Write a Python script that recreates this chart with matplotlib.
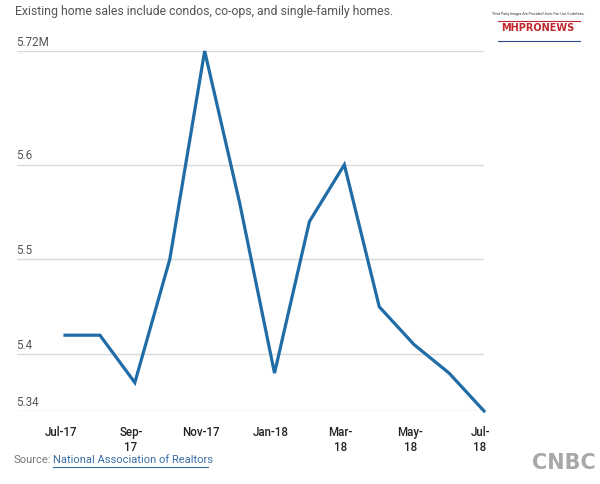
import matplotlib
matplotlib.use("Agg")
import matplotlib.pyplot as plt
import matplotlib.transforms as mtransforms

plt.rcParams['font.family'] = ['Roboto', 'DejaVu Sans']

months = ["Jul-17", "Aug-17", "Sep-17", "Oct-17", "Nov-17", "Dec-17", "Jan-18",
          "Feb-18", "Mar-18", "Apr-18", "May-18", "Jun-18", "Jul-18"]
sales = [5.42, 5.42, 5.37, 5.50, 5.72, 5.56, 5.38, 5.54, 5.60, 5.45, 5.41, 5.38, 5.34]

y_ticks = [5.34, 5.4, 5.5, 5.6, 5.72]
y_labels = ["5.34", "5.4", "5.5", "5.6", "5.72M"]
x_tick_idx = [0, 2, 4, 6, 8, 10, 12]
x_labels = ["Jul-17", "Sep-\n17", "Nov-17", "Jan-18", "Mar-\n18", "May-\n18", "Jul-\n18"]

W, H = 600, 484
fig = plt.figure(figsize=(W / 100, H / 100), dpi=100)
fig.patch.set_facecolor("white")

# axes box in pixels: left 17, right 484, top 51, bottom 411
ax = fig.add_axes([17 / W, 1 - 411 / H, (484 - 17) / W, (411 - 51) / H])
x = list(range(len(sales)))
ax.plot(x, sales, color="#1f6ca6", linewidth=2.3, solid_joinstyle="miter", clip_on=False, zorder=3)

ax.set_xlim(-1.375, 12)
ax.set_ylim(5.34, 5.72)

for s in ax.spines.values():
    s.set_visible(False)

ax.set_yticks(y_ticks)
ax.set_yticklabels([])
ax.tick_params(axis="y", length=0)
ax.grid(axis="y", color="#d9d9d9", linewidth=1.0)
ax.grid(axis="x", visible=False)

trans = mtransforms.blended_transform_factory(ax.transAxes, ax.transData)
up = mtransforms.ScaledTranslation(-1 / 100, 2.5 / 100, fig.dpi_scale_trans)
for v, lab in zip(y_ticks, y_labels):
    ax.text(0.0, v, lab, transform=trans + up, ha="left", va="bottom", fontsize=8.4,
            color="#555555")

ax.set_xticks(x_tick_idx)
ax.set_xticklabels(x_labels, fontsize=8.3, color="#222222", fontweight="medium",
                   linespacing=1.2)
ax.tick_params(axis="x", length=0, pad=11)
offset = mtransforms.ScaledTranslation(-4 / 100, 0, fig.dpi_scale_trans)
for lbl in ax.get_xticklabels():
    lbl.set_transform(lbl.get_transform() + offset)

fig.text(15 / W, 1 - 12 / H, "Existing home sales include condos, co-ops, and single-family homes.",
         ha="left", va="center", fontsize=8.8, color="#555555")

fig.text(14 / W, 1 - 460 / H, "Source:", ha="left", va="center", fontsize=8.0, color="#777777")
fig.text(53 / W, 1 - 460 / H, "National Association of Realtors", ha="left", va="center",
         fontsize=8.0, color="#3a6ea5", url="https://www.nar.realtor")
fig.add_artist(plt.Line2D([53 / W, 208 / W], [1 - 467 / H, 1 - 467 / H], color="#3a6ea5", linewidth=0.8))

# CNBC mark
fig.text(596 / W, 1 - 463 / H, "CNBC", ha="right", va="center", fontsize=15,
         fontweight="bold", color="#a8a8a8", family="DejaVu Sans")

# MHPRONEWS mark
fig.text(538 / W, 1 - 14 / H, "Third Party Images Are Provided Under Fair Use Guidelines.",
         ha="center", va="center", fontsize=2.5, color="#333333")
fig.text(538 / W, 1 - 28 / H, "MHPRONEWS", ha="center", va="center", fontsize=7,
         fontweight="bold", color="#c0272d", family="DejaVu Sans")
fig.add_artist(plt.Line2D([498 / W, 580 / W], [1 - 21 / H, 1 - 21 / H], color="#c0272d", linewidth=0.8))
fig.add_artist(plt.Line2D([498 / W, 580 / W], [1 - 41 / H, 1 - 41 / H], color="#2b4a8b", linewidth=0.8))

fig.savefig("out.png", dpi=100, facecolor="white")
